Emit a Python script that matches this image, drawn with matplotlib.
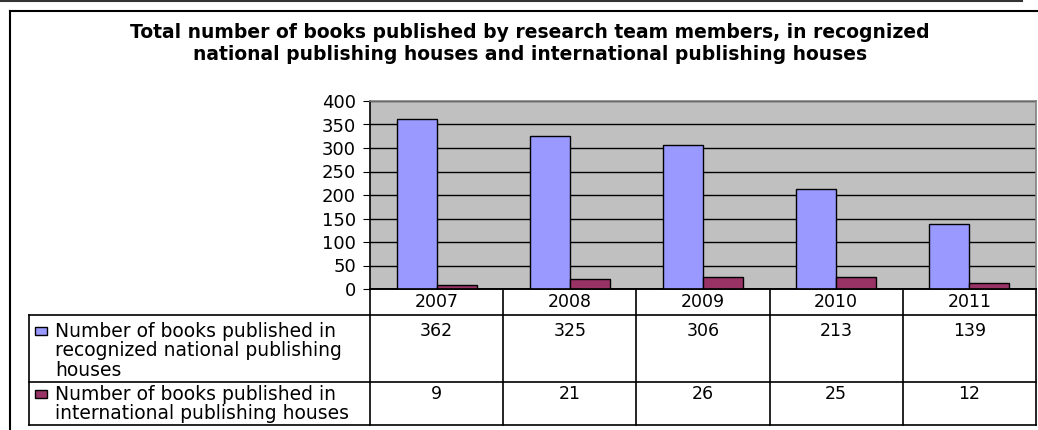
import numpy as np
import matplotlib
matplotlib.use("Agg")
import matplotlib.pyplot as plt
from matplotlib.lines import Line2D
from matplotlib.patches import Rectangle

# data
years = ["2007", "2008", "2009", "2010", "2011"]
national = [362, 325, 306, 213, 139]
international = [9, 21, 26, 25, 12]
series_labels = ["Number of books published in\nrecognized national publishing\nhouses",
                 "Number of books published in\ninternational publishing houses"]
colors = ["#9999FF", "#993366"]
title = ("Total number of books published by research team members, in recognized\n"
         "national publishing houses and international publishing houses")

plt.rcParams['font.family'] = ['DejaVu Sans']

W, H = 1038, 430
fig = plt.figure(figsize=(W / 100, H / 100), dpi=100)


def box(x0, y0, x1, y1):
    # pixel rectangle (from top-left) -> figure fractions
    return [x0 / W, 1 - y1 / H, (x1 - x0) / W, (y1 - y0) / H]


# outer frame like the pasted excel chart
fig.add_artist(Line2D([0, 1022 / W], [1 - 1 / H] * 2, color="#333333", lw=1.5))
fig.add_artist(Line2D([9.5 / W, 1], [1 - 11 / H] * 2, color="black", lw=1.5))
fig.add_artist(Line2D([9.5 / W] * 2, [0, 1 - 11 / H], color="black", lw=1.5))

fig.text(530 / W, 1 - 44 / H, title, ha="center", va="center",
         fontsize=13.5, fontweight="bold", linespacing=1.2)

# bar chart
ax = fig.add_axes(box(370, 101, 1036, 289))
ax.set_facecolor("#C0C0C0")
x = np.arange(len(years))
w = 0.3
ax.bar(x - w / 2, national, w, color=colors[0], edgecolor="black", lw=1, zorder=3)
ax.bar(x + w / 2, international, w, color=colors[1], edgecolor="black", lw=1, zorder=3)
ax.set_xlim(-0.5, len(years) - 0.5)
ax.set_ylim(0, 400)
ax.set_yticks(range(0, 401, 50))
ax.set_xticks([])
ax.yaxis.grid(True, color="black", lw=1)
ax.set_axisbelow(True)
ax.tick_params(axis="y", length=5, labelsize=13, pad=5)
ax.spines["left"].set_color("black")
ax.spines["bottom"].set_color("black")
ax.spines["top"].set_color("#808080")
ax.spines["right"].set_color("#808080")
for s in ax.spines.values():
    s.set_linewidth(1.2)

# data table under the chart
colw = (1036 - 370) / len(years)
xl = -0.5 - (370 - 29) / colw
xr = len(years) - 0.5
tab = fig.add_axes(box(29, 289, 1036, 425))
tab.set_xlim(xl, xr)
tab.set_ylim(136, 0)
tab.axis("off")
lk = dict(color="black", lw=1.2, clip_on=False)
for i in range(len(years) + 1):
    tab.plot([i - 0.5, i - 0.5], [0, 136], **lk)
tab.plot([xl, xl], [26, 136], **lk)
tab.plot([-0.5, xr], [0, 0], **lk)
for yy in (26, 93, 136):
    tab.plot([xl, xr], [yy, yy], **lk)

for i, yr in enumerate(years):
    tab.text(i, 13, yr, ha="center", va="center", fontsize=12.5)

row_tops = [33, 96]
for r, vals in enumerate([national, international]):
    for i, v in enumerate(vals):
        tab.text(i, row_tops[r], str(v), ha="center", va="top", fontsize=12.5)
    tab.text(xl + 26 / colw, row_tops[r], series_labels[r], ha="left", va="top",
             fontsize=13.5, linespacing=1.02)
    tab.add_patch(Rectangle((xl + 6 / colw, row_tops[r] + 5), 12 / colw, 8,
                            facecolor=colors[r], edgecolor="black", lw=1))

fig.savefig("out.png", dpi=100)
